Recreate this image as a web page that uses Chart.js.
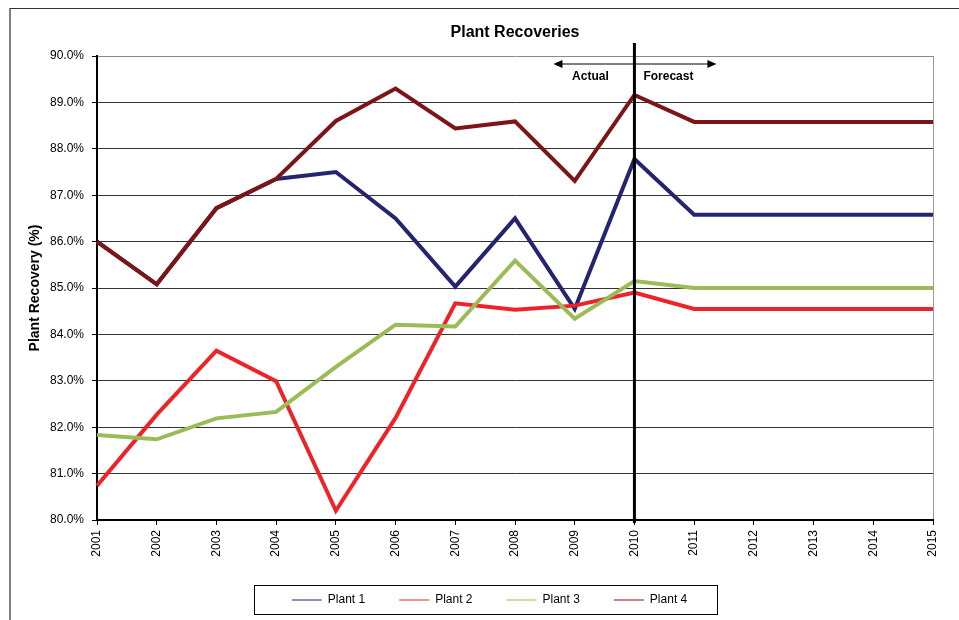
<!DOCTYPE html>
<html>
<head>
<meta charset="utf-8">
<title>Plant Recoveries</title>
<script src="https://cdn.jsdelivr.net/npm/chart.js@4.4.1/dist/chart.umd.min.js"></script>
<style>
  body { margin: 0; background: #fff; }
  #wrap { position: relative; width: 959px; height: 620px; overflow: hidden; }
  #frame { position: absolute; left: 9px; top: 8px; width: 1000px; height: 700px;
           border-left: 2px solid #808080; border-top: 1px solid #333; }
  canvas { position: absolute; left: 0; top: 0; }
</style>
</head>
<body>
<div id="wrap">
  <div id="frame"></div>
  <canvas id="chart" width="959" height="620"></canvas>
</div>
<script>
// data (recovery in %)
const years = ['2001', '2002', '2003', '2004', '2005', '2006', '2007', '2008',
               '2009', '2010', '2011', '2012', '2013', '2014', '2015'];
const plant1 = [86.0, 85.08, 86.72, 87.35, 87.5, 86.5, 85.03, 86.5, 84.55, 87.78, 86.58, 86.58, 86.58, 86.58, 86.58];
const plant2 = [80.74, 82.27, 83.65, 82.99, 80.2, 82.2, 84.67, 84.53, 84.62, 84.9, 84.55, 84.55, 84.55, 84.55, 84.55];
const plant3 = [81.83, 81.74, 82.19, 82.33, 83.3, 84.21, 84.17, 85.59, 84.34, 85.15, 85.0, 85.0, 85.0, 85.0, 85.0];
const plant4 = [86.0, 85.08, 86.72, 87.35, 88.6, 89.3, 88.44, 88.59, 87.31, 89.16, 88.58, 88.58, 88.58, 88.58, 88.58];

const seriesNames = ['Plant 1', 'Plant 2', 'Plant 3', 'Plant 4'];
const seriesColors = ['#25256f', '#ee2328', '#9bbb59', '#7d1517'];

const yMin = 80;
const yMax = 90;
const forecastFrom = '2010';
const actualLabel = 'Actual';
const forecastLabel = 'Forecast';

const FONT = '"Liberation Sans", Arial, sans-serif';

Chart.defaults.font.family = FONT;
Chart.defaults.font.size = 12;
Chart.defaults.color = '#000';

function arrowHead(ctx, x, y, dir) {
    ctx.beginPath();
    ctx.moveTo(x, y);
    ctx.lineTo(x - dir * 9, y - 4);
    ctx.lineTo(x - dir * 9, y + 4);
    ctx.closePath();
    ctx.fill();
}

// vertical divider between actual and forecast years, with the arrows
const forecastDivider = {
    id: 'forecastDivider',
    afterDatasetsDraw(chart) {
        const {ctx, chartArea, scales: {x}} = chart;
        const px = x.getPixelForValue(years.indexOf(forecastFrom));
        ctx.save();
        ctx.strokeStyle = '#000';
        ctx.fillStyle = '#000';
        ctx.lineWidth = 3;
        ctx.beginPath();
        ctx.moveTo(px, chartArea.top - 13);
        ctx.lineTo(px, chartArea.bottom + 3);
        ctx.stroke();

        const ay = chartArea.top + 8;
        ctx.lineWidth = 1.2;
        ctx.beginPath();
        ctx.moveTo(px - 78, ay);
        ctx.lineTo(px + 76, ay);
        ctx.stroke();
        arrowHead(ctx, px - 81, ay, -1);
        arrowHead(ctx, px + 82, ay, 1);

        ctx.font = 'bold 12px ' + FONT;
        ctx.textAlign = 'center';
        ctx.textBaseline = 'middle';
        ctx.fillText(actualLabel, px - 44, ay + 13);
        ctx.fillText(forecastLabel, px + 34, ay + 13);
        ctx.restore();
    }
};

// nudge the legend and draw the box round it
const legendBox = {
    id: 'legendBox',
    afterLayout(chart) {
        chart.legend.left += 18;
        chart.legend.right += 18;
    },
    afterDraw(chart) {
        const boxes = chart.legend.legendHitBoxes;
        if (!boxes || !boxes.length) return;
        const left = Math.min(...boxes.map(b => b.left)) - 38;
        const right = Math.max(...boxes.map(b => b.left + b.width)) + 30;
        const mid = boxes[0].top + boxes[0].height / 2;
        const ctx = chart.ctx;
        ctx.save();
        ctx.strokeStyle = '#000';
        ctx.lineWidth = 1;
        ctx.strokeRect(Math.round(left) + 0.5, Math.round(mid - 15) + 0.5,
                       Math.round(right - left), 29);
        ctx.restore();
    }
};

const plantData = [plant1, plant2, plant3, plant4];

const chart = new Chart(document.getElementById('chart'), {
    type: 'line',
    data: {
        labels: years,
        datasets: plantData.map((values, i) => ({
            label: seriesNames[i],
            data: values,
            borderColor: seriesColors[i],
            backgroundColor: seriesColors[i],
            borderWidth: 4,
            pointRadius: 0,
            tension: 0,
            fill: false,
            // Excel draws the last series on top
            order: plantData.length - i
        }))
    },
    options: {
        responsive: false,
        animation: false,
        layout: {
            padding: {left: 10, top: 9, right: 26, bottom: 4}
        },
        plugins: {
            title: {
                display: true,
                text: 'Plant Recoveries',
                fullSize: false,
                font: {size: 16, weight: 'bold'},
                padding: {top: 14, bottom: 13.8}
            },
            legend: {
                position: 'bottom',
                labels: {
                    usePointStyle: true,
                    pointStyle: 'line',
                    pointStyleWidth: 30,
                    padding: 34,
                    font: {size: 12},
                    sort: (a, b) => a.datasetIndex - b.datasetIndex,
                    generateLabels(c) {
                        return Chart.defaults.plugins.legend.labels.generateLabels(c)
                            .map(item => Object.assign(item, {lineWidth: 1}));
                    }
                }
            },
            tooltip: {enabled: false}
        },
        scales: {
            x: {
                afterFit(scale) { scale.height = 40; },
                grid: {
                    drawOnChartArea: true,
                    color: c => c.index === years.length - 1 ? '#9a9a9a' : 'rgba(0,0,0,0)',
                    tickColor: '#000',
                    tickLength: 5,
                    lineWidth: 1
                },
                border: {display: true, color: '#000', width: 2},
                ticks: {
                    autoSkip: false,
                    minRotation: 90,
                    maxRotation: 90,
                    padding: 5,
                    font: {size: 12}
                }
            },
            y: {
                min: yMin,
                max: yMax,
                afterFit(scale) { scale.width = 87; },
                grid: {
                    color: c => c.tick && c.tick.value === yMax ? '#8a8a8a' : '#333',
                    tickColor: '#000',
                    tickLength: 5,
                    lineWidth: 1
                },
                border: {display: true, color: '#000', width: 2},
                ticks: {
                    stepSize: 1,
                    padding: 8,
                    font: {size: 12},
                    callback: v => v.toFixed(1) + '%'
                },
                title: {
                    display: true,
                    text: 'Plant Recovery (%)',
                    font: {size: 14, weight: 'bold'},
                    padding: {top: 17, bottom: 0}
                }
            }
        }
    },
    plugins: [forecastDivider, legendBox]
});
</script>
</body>
</html>
